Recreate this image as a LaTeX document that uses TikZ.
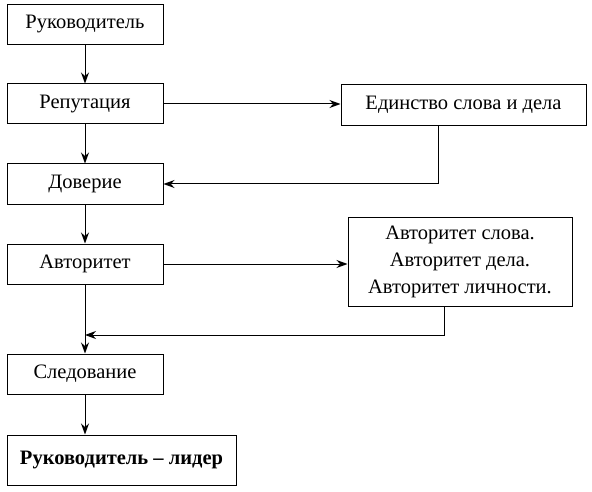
\documentclass[tikz,border=0pt]{standalone}
\usepackage{fontspec}
\setmainfont{Liberation Serif}
\usetikzlibrary{arrows.meta,positioning,calc}

\begin{document}
\begin{tikzpicture}[x=1pt, y=-1pt,
    blk/.style={rectangle, draw, line width=1pt, minimum width=#1, minimum height=40pt, inner sep=2pt, font=\fontsize{20.5}{23}\selectfont},
    blk/.default=156pt,
    arr/.style={-{Stealth[length=11pt,width=8pt]}, line width=1pt}
]
    \useasboundingbox (0,0) rectangle (592,492);
    % left column
    \node[blk] (ruk)  at (85, 24.5) {Руководитель};
    \node[blk] (rep)  at (85, 104)  {Репутация};
    \node[blk] (dov)  at (85, 184)  {Доверие};
    \node[blk] (avt)  at (85, 264)  {Авторитет};
    \node[blk] (sled) at (85, 374)  {Следование};
    \node[blk=229pt, minimum height=50pt, font=\fontsize{20.5}{23}\selectfont\bfseries] (lid) at (121.5, 460) {Руководитель – лидер};
    % right column
    \node[blk=245pt, minimum height=41pt] (edin) at (463.5, 105) {Единство слова и дела};
    \node[blk=224pt, minimum height=89pt, align=center, font=\fontsize{20.5}{27}\selectfont] (avtx) at (460, 261.5) {Авторитет слова.\\Авторитет дела.\\Авторитет личности.};
    % connectors
    \draw[arr] (ruk) -- (rep);
    \draw[arr] (rep) -- (dov);
    \draw[arr] (dov) -- (avt);
    \draw[arr] (avt) -- (sled);
    \draw[arr] (sled.south) -- (sled.south |- lid.north);
    \draw[arr] (rep.east) -- (edin.west |- rep.east);
    \draw[arr] (avt.east) -- (avtx.west |- avt.east);
    \draw[arr] (edin.south -| 438,0) |- (dov.east);
    \coordinate (mrg) at (85, 335);
    \draw[arr] (avtx.south -| 444,0) |- (mrg);
\end{tikzpicture}
\end{document}
